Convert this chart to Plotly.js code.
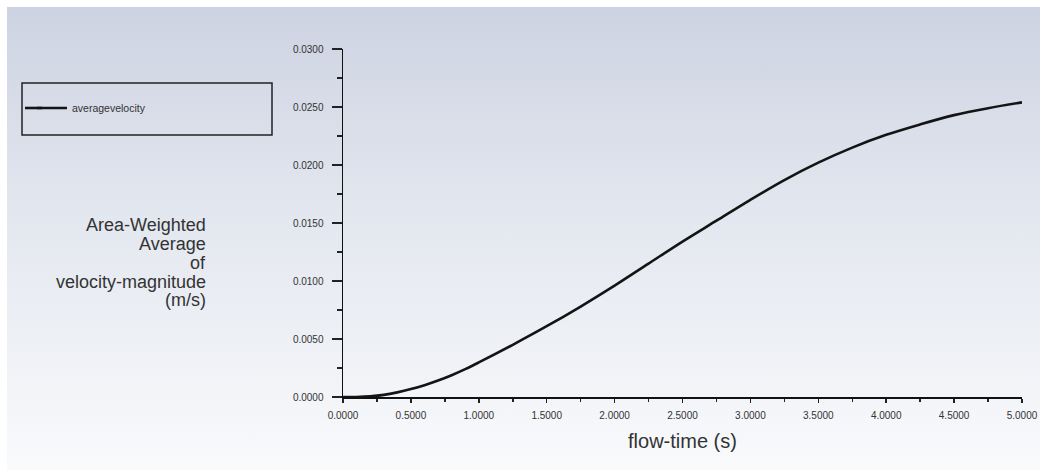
<!DOCTYPE html>
<html>
<head>
<meta charset="utf-8">
<script src="https://cdn.plot.ly/plotly-3.0.1.min.js"></script>
<style>
  html, body { margin: 0; padding: 0; background: #ffffff; }
  #wrap { position: relative; width: 1040px; height: 472px; background: #ffffff; }
  #bg { position: absolute; left: 7px; top: 7px; width: 1033px; height: 463px;
        background: linear-gradient(to bottom, #cdd3e2 0%, #e3e7ef 45%, #f9fafc 100%); }
  #chart { position: absolute; left: 0; top: 0; width: 1040px; height: 472px; }
</style>
</head>
<body>
<div id="wrap">
  <div id="bg"></div>
  <div id="chart"></div>
</div>
<script>
// flow-time (s)
const flowTime = [0, 0.1, 0.2, 0.3, 0.4, 0.5, 0.6, 0.7, 0.8, 0.9, 1.0, 1.25, 1.5, 1.75, 2.0, 2.25, 2.5, 2.75, 3.0, 3.25, 3.5, 3.75, 4.0, 4.25, 4.5, 4.75, 5.0];
// Area-Weighted Average of velocity-magnitude (m/s)
const averageVelocity = [0, 0, 0.00005, 0.00018, 0.0004, 0.00068, 0.00102, 0.00142, 0.00188, 0.0024, 0.00298, 0.0045, 0.0061, 0.0078, 0.0096, 0.0115, 0.0134, 0.0152, 0.0170, 0.0187, 0.0202, 0.0215, 0.0226, 0.0235, 0.0243, 0.0249, 0.0254];
const seriesName = 'averagevelocity';
const xTitle = 'flow-time (s)';
const yTitleLines = ['Area-Weighted', 'Average', 'of', 'velocity-magnitude', '(m/s)'];

const trace = {
  x: flowTime, y: averageVelocity, type: 'scatter', mode: 'lines',
  name: seriesName, line: { color: '#141414', width: 2.6, shape: 'spline', smoothing: 1 }
};

const FONT = 'Liberation Sans, Arial, sans-serif';
const tickFont = { family: FONT, size: 10, color: '#333333' };

// pixel helpers for paper-positioned decorations (plot area: x 343..1022, y 49..397)
const px = (x) => (x - 343) / 679;
const py = (y) => (397 - y) / 348;

const yTitleCenters = [225, 244, 262.5, 281.5, 300];
const titleAnnotations = yTitleLines.map((t, i) => ({
  xref: 'paper', yref: 'paper', x: px(208), y: py(yTitleCenters[i]),
  xanchor: 'right', yanchor: 'middle', align: 'right', showarrow: false,
  text: t, font: { family: FONT, size: 18, color: '#333333' }
}));

const layout = {
  width: 1040, height: 472,
  paper_bgcolor: 'rgba(0,0,0,0)', plot_bgcolor: 'rgba(0,0,0,0)',
  margin: { l: 343, r: 18, t: 49, b: 75 },
  showlegend: true,
  legend: {
    x: px(32), y: py(108), xref: 'paper', yref: 'paper', xanchor: 'left', yanchor: 'middle',
    bgcolor: 'rgba(0,0,0,0)', borderwidth: 0,
    font: { family: FONT, size: 10.5, color: '#333333' }
  },
  xaxis: {
    range: [0, 5], tickvals: [0, 0.5, 1, 1.5, 2, 2.5, 3, 3.5, 4, 4.5, 5],
    tickformat: '.4f', ticks: 'outside', ticklen: 4, tickwidth: 1.5, tickcolor: '#222',
    showline: true, linecolor: '#111', linewidth: 1.5, showgrid: false, zeroline: false,
    tickfont: tickFont, ticklabelstandoff: 4,
    minor: { dtick: 0.25, tick0: 0, ticks: 'outside', ticklen: 3, tickcolor: '#222', tickwidth: 1.5, showgrid: false },
    title: { text: xTitle, font: { family: FONT, size: 20, color: '#333333' }, standoff: 14 }
  },
  yaxis: {
    range: [0, 0.03], tickvals: [0, 0.005, 0.01, 0.015, 0.02, 0.025, 0.03],
    tickformat: '.4f', ticks: 'outside', ticklen: 10, tickwidth: 1.5, tickcolor: '#222',
    showline: true, linecolor: '#111', linewidth: 1.5, showgrid: false, zeroline: false,
    tickfont: tickFont, ticklabelstandoff: 6,
    minor: { dtick: 0.0025, tick0: 0, ticks: 'outside', ticklen: 5, tickcolor: '#222', tickwidth: 1.5, showgrid: false }
  },
  shapes: [
    {
      type: 'rect', xref: 'paper', yref: 'paper',
      x0: px(22), x1: px(272), y0: py(135), y1: py(83),
      line: { color: '#222', width: 1.5 }, fillcolor: 'rgba(0,0,0,0)'
    },
    {
      // lengthen the legend's line sample to match the reference
      type: 'line', xref: 'paper', yref: 'paper',
      x0: px(25), x1: px(42), y0: py(108), y1: py(108),
      line: { color: '#141414', width: 2.6 }
    }
  ],
  annotations: titleAnnotations
};

Plotly.newPlot('chart', [trace], layout, { displayModeBar: false, staticPlot: true });
</script>
</body>
</html>
